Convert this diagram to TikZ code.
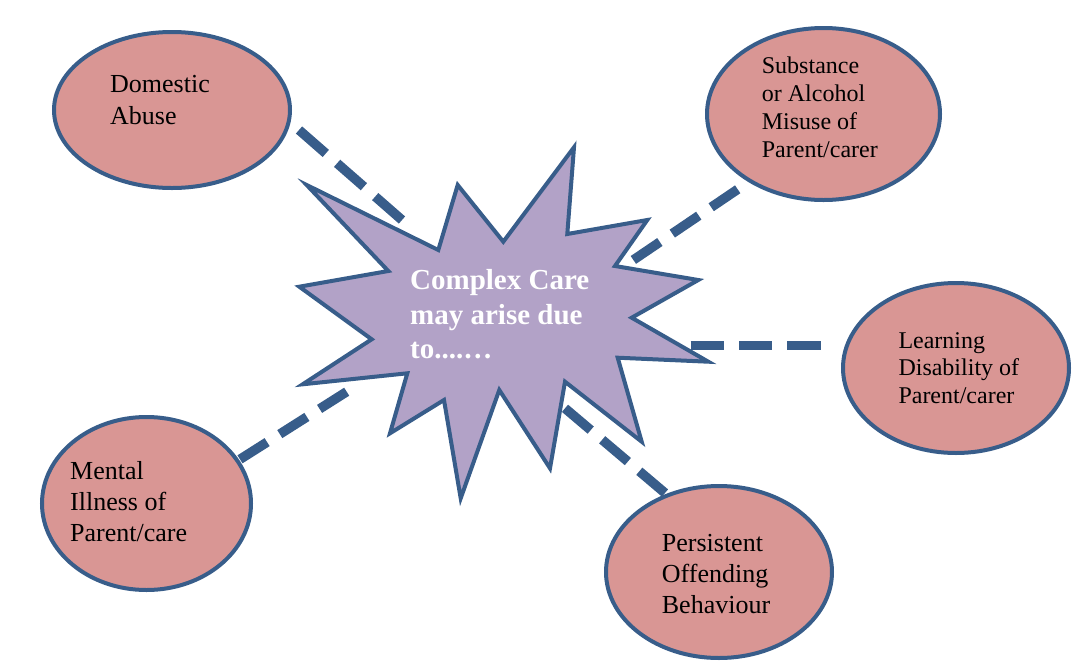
\documentclass[tikz,border=0pt]{standalone}
\usepackage{fontspec}
\setmainfont{Liberation Serif}
\usetikzlibrary{shapes.geometric}
\definecolor{edgeblue}{RGB}{56,93,138}
\definecolor{pinkfill}{RGB}{217,150,148}
\definecolor{starfill}{RGB}{178,162,199}
\begin{document}
\begin{tikzpicture}[x=1pt,y=-1pt,
  bubble/.style={ellipse, draw=edgeblue, fill=pinkfill, line width=4pt, inner sep=0pt},
  lbl/.style={anchor=north west, inner sep=0pt, align=left, text=black},
  conn/.style={draw=edgeblue, line width=9.5pt, dash pattern=on #1 off 15pt},
  burst/.style={draw=edgeblue, fill=starfill, line width=4pt, line join=miter}
]
\useasboundingbox (0,0) rectangle (1072,662);

% connector end points
\coordinate (dA) at (299,130);   \coordinate (dB) at (402,220);
\coordinate (sA) at (737.7,189.3); \coordinate (sB) at (633.3,260);
\coordinate (lA) at (820.7,345.7); \coordinate (lB) at (690.7,345.7);
\coordinate (mA) at (240,459.3); \coordinate (mB) at (346.7,391.7);
\coordinate (pA) at (665,493);   \coordinate (pB) at (565,408.3);

\draw[conn=35.6pt] (dA) -- (dB);
\draw[conn=32pt] (sA) -- (sB);
\draw[conn=33.3pt] (lB) -- (lA);
\draw[conn=32.1pt] (mA) -- (mB);
\draw[conn=33.7pt] (pB) -- (pA);

% central burst
\draw[burst] (306.7,185) -- (438.3,250) -- (457.7,185) -- (503.3,241.7)
  -- (574,147.3) -- (567.3,234) -- (647.3,220) -- (615,266) -- (698.3,280)
  -- (631.7,317.7) -- (708.3,361.7) -- (617.7,357.7) -- (641.7,441.7)
  -- (565,381.7) -- (550,468.3) -- (499.3,390) -- (460.7,498.3) -- (444,400)
  -- (390,433.3) -- (407.3,373.3) -- (302.7,384.3) -- (371.7,339.3)
  -- (299.3,286.7) -- (388.3,271) -- cycle;
\node[lbl, text=white, font=\bfseries\fontsize{29}{34.5}\selectfont] (centre) at (410,269.2)
  {Complex Care\\may arise due\\to....…};

% outer bubbles
\node[bubble, minimum width=236pt, minimum height=156pt] (dom) at (172,110) {};
\node[lbl, font=\fontsize{26}{32}\selectfont] (domtxt) at (110,75.2) {Domestic\\Abuse};

\node[bubble, minimum width=233pt, minimum height=172pt] (sub) at (823.5,114) {};
\node[lbl, font=\fontsize{24}{27.8}\selectfont] (subtxt) at (761.7,56.9) {Substance\\or Alcohol\\Misuse of\\Parent/carer};

\node[bubble, minimum width=226pt, minimum height=170pt] (lea) at (956,368) {};
\node[lbl, font=\fontsize{24}{27.2}\selectfont] (leatxt) at (898.3,332.6) {Learning\\Disability of\\Parent/carer};

\node[bubble, minimum width=209pt, minimum height=173pt] (men) at (146.5,503.5) {};
\node[lbl, font=\fontsize{26}{31}\selectfont] (mentxt) at (70,461.2) {Mental\\Illness of\\Parent/care};

\node[bubble, minimum width=226pt, minimum height=172pt] (per) at (719,572) {};
\node[lbl, font=\fontsize{26}{31}\selectfont] (pertxt) at (661.7,533.9) {Persistent\\Offending\\Behaviour};
\end{tikzpicture}
\end{document}
